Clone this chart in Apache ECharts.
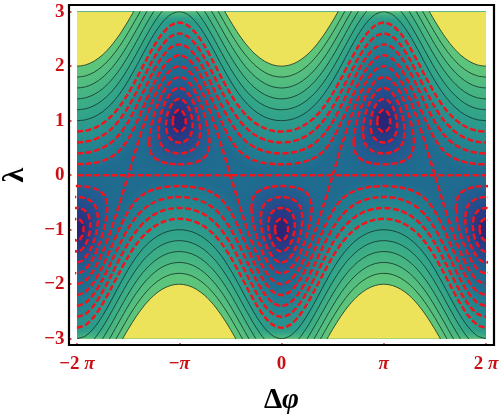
<!DOCTYPE html>
<html><head><meta charset="utf-8">
<style>html,body{margin:0;padding:0;background:#fff}#c{width:500px;height:414px}</style>
<script src="https://cdn.jsdelivr.net/npm/echarts@6/dist/echarts.min.js"></script>
</head><body><div id="c"></div>
<script>
// Contour values. Open contours: lambda at phase offsets 0,15,...,180 degrees.
const level02 = [0.2,0.206,0.225,0.263,0.331,0.453,0.663,0.971,1.331,1.677,1.957,2.138,2.2];
const level04 = [0.4,0.41,0.442,0.501,0.6,0.754,0.98,1.272,1.6,1.915,2.174,2.342,2.4];
const level06 = [0.6,0.613,0.654,0.728,0.845,1.017,1.249,1.535,1.845,2.142,2.386,2.545,2.6];
const level08 = [0.8,0.815,0.863,0.948,1.078,1.26,1.497,1.778,2.078,2.362,2.595,2.747,2.8];
const level10 = [1,1.017,1.07,1.164,1.303,1.492,1.732,2.01,2.303,2.578,2.802,2.949,3];
const level12 = [1.2,1.219,1.276,1.376,1.522,1.718,1.96,2.236,2.522,2.79,3.008,3.151,3.2];
const level14 = [1.4,1.42,1.481,1.586,1.738,1.938,2.182,2.456,2.738,3,3.213,3.352,3.4];
const level16 = [1.6,1.621,1.685,1.795,1.952,2.155,2.4,2.673,2.952,3.209,3.417,3.553,3.6];
const level18 = [1.8,1.822,1.889,2.002,2.163,2.369,2.615,2.887,3.163,3.416,3.621,3.754,3.8];
const level20 = [2,2.023,2.092,2.208,2.372,2.581,2.828,3.099,3.372,3.622,3.824,3.955,4];
const separatrix = [-2,-1.932,-1.732,-1.414,-1,-0.518,0,0.518,1,1.414,1.732,1.932,2];
// Closed rings around the centres: half-width offset (deg), upper and lower lambda.
const ring1Offset = [0,10,20,30,40,45,50,53.13];
const ring1Upper = [1.8,1.766,1.663,1.4905,1.242,1.081,0.874,0.6];
const ring1Lower = [0.2,0.204,0.217,0.2415,0.29,0.333,0.412,0.6];
const ring2Offset = [0,8,16,24,30,34,36.87];
const ring2Upper = [1.6,1.574,1.494,1.355,1.198,1.0465,0.8];
const ring2Lower = [0.4,0.407,0.428,0.4725,0.534,0.6115,0.8];
const ring3Offset = [0,6,12,18,21,23.58];
const ring3Upper = [1.4,1.381,1.32,1.205,1.1116,0.9165];
const ring3Lower = [0.6,0.6085,0.636,0.697,0.7556,0.9165];
const ring4Offset = [0,4,8,10,11.54];
const ring4Upper = [1.2,1.185,1.134,1.084,0.98];
const ring4Lower = [0.8,0.81,0.847,0.886,0.98];
const upperCentres = [-180,180];
const lowerCentres = [-360,0,360];
const phiTicks = [-360,-180,0,180,360];
const xTickLabels = ['−2 π','−π','0','π','2 π'];
const yTickLabels = ['−3','−2','−1','0','1','2','3'];

const redLevels = [level02,level04,level06,level08];
const blackLevels = [level10,level12,level14,level16,level18,level20];
const allLevels = redLevels.concat(blackLevels);
const rings = [[ring1Offset,ring1Upper,ring1Lower],[ring2Offset,ring2Upper,ring2Lower],
               [ring3Offset,ring3Upper,ring3Lower],[ring4Offset,ring4Upper,ring4Lower]];
const bandColors = ['#217a90','#23848f','#288f8e','#2c998c','#31a38a','#3aac87','#45b483','#51bc80','#5dc47c','#ece35a'];
const ringColors = ['#235f90','#254f8d','#283c86','#2a2677'];
const RED = '#f0141e', LABEL = '#cc0f14', SERIF = '"Liberation Serif",serif';

const phis = [];
for (let p = -360; p <= 360; p += 15) phis.push(p);
function pick(profile, phi) {
  let a = ((phi % 360) + 360) % 360;
  if (a > 180) a = 360 - a;
  return profile[Math.round(a / 15)];
}
const upperCurve = prof => phis.map(p => [p, pick(prof, p)]);
const lowerCurve = prof => phis.map(p => [p, -pick(prof, p + 180)]);
function ringPath(r, centre, sign) {
  const [o, up, lo] = r, pts = [];
  for (let i = o.length - 1; i > 0; i--) pts.push([centre - o[i], sign * up[i]]);
  for (let i = 0; i < o.length; i++) pts.push([centre + o[i], sign * up[i]]);
  for (let i = o.length - 2; i > 0; i--) pts.push([centre + o[i], sign * lo[i]]);
  for (let i = 0; i < o.length; i++) pts.push([centre - o[i], sign * lo[i]]);
  return pts;
}
const series = [];
allLevels.forEach((lv, i) => {
  const soft = i < allLevels.length - 1 ? {shadowBlur: 10, shadowColor: bandColors[i]} : {};
  [[upperCurve(lv), 'end'], [lowerCurve(lv), 'start']].forEach(([d, origin]) => series.push({
    type: 'line', data: d, showSymbol: false, silent: true, smooth: 0.3, z: 2,
    lineStyle: {width: 0}, areaStyle: Object.assign({color: bandColors[i], opacity: 1, origin: origin}, soft)
  }));
});
function fillRing(pts, color) {
  series.push({
    type: 'custom', data: pts, clip: true, silent: true, z: 3,
    encode: {x: 0, y: 1},
    renderItem: (params, api) => params.dataIndex !== 0 ? null : {
      type: 'polygon',
      shape: {points: pts.map(q => api.coord(q)), smooth: 0.3},
      style: {fill: color, shadowBlur: 8, shadowColor: color}
    }
  });
}
const ringPaths = [];
rings.forEach((r, i) => {
  upperCentres.forEach(c => { const p = ringPath(r, c, 1); ringPaths.push(p); fillRing(p, ringColors[i]); });
  lowerCentres.forEach(c => { const p = ringPath(r, c, -1); ringPaths.push(p); fillRing(p, ringColors[i]); });
});
const drawLine = (d, color, width, dash, smooth) => series.push({
  type: 'line', data: d, showSymbol: false, silent: true, smooth: smooth, z: 5,
  lineStyle: {color: color, width: width, type: dash ? [6, 2.6] : 'solid'}
});
blackLevels.forEach(lv => { drawLine(upperCurve(lv), '#143028', 0.8, false, 0.3); drawLine(lowerCurve(lv), '#143028', 0.8, false, 0.3); });
redLevels.forEach(lv => { drawLine(upperCurve(lv), RED, 2.5, true, 0.3); drawLine(lowerCurve(lv), RED, 2.5, true, 0.3); });
ringPaths.forEach(p => drawLine(p, RED, 2.5, true, 0.3));
drawLine(upperCurve(separatrix), RED, 2.5, true, 0.3);
drawLine(phiTicks.map(p => [p, 0]), RED, 2.5, true, false);

const chart = echarts.init(document.getElementById('c'), null, {renderer: 'canvas'});
chart.setOption({
  animation: false, backgroundColor: '#fff',
  grid: {left: 77, right: 14, top: 11.7, bottom: 75.3, show: true, backgroundColor: '#206c90', borderWidth: 0, outerBoundsMode: 'none', containLabel: false},
  xAxis: {
    type: 'value', min: -360, max: 360, interval: 180, offset: 6.5, z: 6,
    axisLine: {show: false, onZero: false}, splitLine: {show: false},
    axisTick: {show: true, inside: true, length: 2, lineStyle: {color: LABEL, width: 1.5}},
    axisLabel: {
      show: true, margin: 9, hideOverlap: false, showMinLabel: true, showMaxLabel: true,
      fontFamily: SERIF, fontWeight: 'bold', fontSize: 19, color: LABEL,
      formatter: v => xTickLabels[phiTicks.indexOf(v)].replace('π', '{p|π}'),
      rich: {p: {fontFamily: SERIF, fontWeight: 'bold', fontStyle: 'italic', fontSize: 19, color: LABEL}}
    },
    name: '{d|Δ}{f|φ}', nameLocation: 'middle', nameGap: 41,
    nameTextStyle: {rich: {
      d: {fontFamily: SERIF, fontWeight: 'bold', fontSize: 29, color: '#000'},
      f: {fontFamily: SERIF, fontWeight: 'bold', fontStyle: 'italic', fontSize: 29, color: '#000'}
    }}
  },
  yAxis: {
    type: 'value', min: -3, max: 3, interval: 1, offset: 7.5, z: 6,
    axisLine: {show: false, onZero: false}, splitLine: {show: false},
    axisTick: {show: true, inside: true, length: 2, lineStyle: {color: LABEL, width: 1.5}},
    axisLabel: {
      show: true, margin: 5, showMinLabel: true, showMaxLabel: true,
      fontFamily: SERIF, fontWeight: 'bold', fontSize: 19, color: LABEL,
      formatter: v => yTickLabels[v + 3]
    },
    name: 'λ', nameLocation: 'middle', nameGap: 39, nameRotate: 90,
    nameTextStyle: {fontFamily: SERIF, fontWeight: 'bold', fontSize: 30, color: '#000'}
  },
  graphic: [{type: 'rect', z: 20, silent: true,
    shape: {x: 69, y: 5, width: 425, height: 340},
    style: {fill: 'none', stroke: '#000', lineWidth: 2.2}}],
  series: series
});
</script></body></html>
